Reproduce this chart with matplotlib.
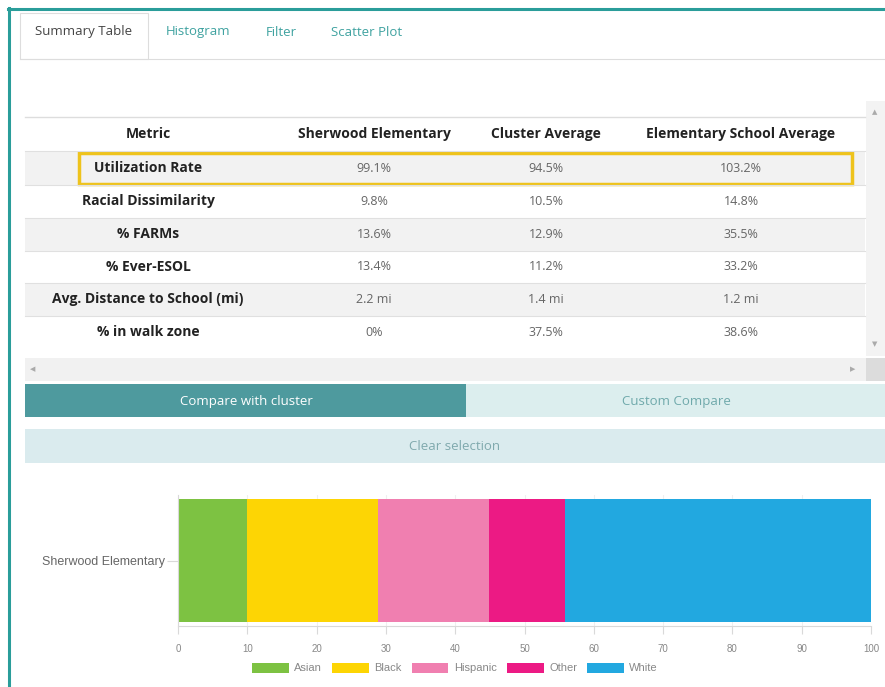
import matplotlib.pyplot as plt
from matplotlib.patches import Rectangle
from matplotlib.lines import Line2D

W, H = 885, 687

# 数据
tabs = ['Summary Table', 'Histogram', 'Filter', 'Scatter Plot']
columns = ['Metric', 'Sherwood Elementary', 'Cluster Average', 'Elementary School Average']
metrics = ['Utilization Rate', 'Racial Dissimilarity', '% FARMs', '% Ever-ESOL',
           'Avg. Distance to School (mi)', '% in walk zone']
sherwood = ['99.1%', '9.8%', '13.6%', '13.4%', '2.2 mi', '0%']
cluster_avg = ['94.5%', '10.5%', '12.9%', '11.2%', '1.4 mi', '37.5%']
elem_avg = ['103.2%', '14.8%', '35.5%', '33.2%', '1.2 mi', '38.6%']

school = ['Sherwood Elementary']
races = ['Asian', 'Black', 'Hispanic', 'Other', 'White']
race_pct = [9.9, 18.9, 16.1, 11.0, 44.1]
race_colors = ['#7DC242', '#FDD504', '#F07FB0', '#EC1A84', '#22A8E0']

ui_font = 'Open Sans'
chart_font = 'Liberation Sans'

fig = plt.figure(figsize=(W / 100, H / 100), dpi=100)
fig.patch.set_facecolor('white')


def box(x0, y0, x1, y1, **kw):
    fig.add_artist(Rectangle((x0 / W, 1 - y1 / H), (x1 - x0) / W, (y1 - y0) / H,
                             transform=fig.transFigure, **kw))


def line(x0, y0, x1, y1, **kw):
    fig.add_artist(Line2D([x0 / W, x1 / W], [1 - y0 / H, 1 - y1 / H],
                          transform=fig.transFigure, **kw))


def txt(x, y, s, **kw):
    kw.setdefault('va', 'center')
    fig.text(x / W, 1 - y / H, s, **kw)


# 外框
line(8, 9, 885, 9, color='#2A9D9A', lw=2.2)
line(9, 8, 9, 687, color='#2A9D9A', lw=2.2)

# 标签页
box(20, 13, 148, 59, facecolor='white', edgecolor='#dddddd', lw=0.8)
line(20, 59, 885, 59, color='#dddddd', lw=0.8)
tab_x = [35, 166, 266, 331]
for i, (t, x) in enumerate(zip(tabs, tab_x)):
    txt(x, 32, t, fontsize=9.5, family=ui_font, color='#444444' if i == 0 else '#3FA2A0')

# 表格
line(25, 117, 865, 117, color='#dddddd', lw=1)
row_edges = [117, 151, 185, 218, 251, 283, 316, 349]
col_x = [148, 374, 546, 741]
for i in range(len(metrics)):
    y0, y1 = row_edges[i + 1], row_edges[i + 2]
    if i % 2 == 0:
        box(25, y0, 865, y1, facecolor='#F2F2F2', edgecolor='none')
    line(25, y0, 865, y0, color='#e0e0e0', lw=0.8)

for c, x in zip(columns, col_x):
    txt(x, 134, c, fontsize=10, family=ui_font, weight='bold', color='#222222', ha='center')

for i, vals in enumerate(zip(metrics, sherwood, cluster_avg, elem_avg)):
    yc = (row_edges[i + 1] + row_edges[i + 2]) / 2
    for j, (v, x) in enumerate(zip(vals, col_x)):
        if j == 0:
            txt(x, yc, v, fontsize=10, family=ui_font, weight='bold', color='#222222', ha='center')
        else:
            txt(x, yc, v, fontsize=9, family=ui_font, color='#666666', ha='center')

# 高亮框
box(79, 153, 852, 184, facecolor='none', edgecolor='#EEC31C', lw=2.5)

# 滚动条
box(866, 101, 885, 356, facecolor='#F3F3F3', edgecolor='none')
txt(875, 112, '▲', fontsize=5, color='#aaaaaa', ha='center')
txt(875, 344, '▼', fontsize=5, color='#aaaaaa', ha='center')
box(25, 358, 866, 381, facecolor='#F1F1F1', edgecolor='none')
box(866, 358, 885, 381, facecolor='#DCDCDC', edgecolor='none')
txt(33, 369, '◀', fontsize=5, color='#aaaaaa', ha='center')
txt(853, 369, '▶', fontsize=5, color='#aaaaaa', ha='center')

# 按钮
box(25, 384, 466, 417, facecolor='#4E9A9E', edgecolor='none')
box(466, 384, 885, 417, facecolor='#DCEEEE', edgecolor='none')
txt(246, 401, 'Compare with cluster', fontsize=9.5, family=ui_font, color='white', ha='center')
txt(676, 401, 'Custom Compare', fontsize=9.5, family=ui_font, color='#6FA9AB', ha='center')
box(25, 429, 885, 463, facecolor='#DAEBEE', edgecolor='none')
txt(455, 447, 'Clear selection', fontsize=9.5, family=ui_font, color='#7FA9AD', ha='center')

# 堆积条形图
ax = fig.add_axes([178 / W, 1 - 626 / H, (871 - 178) / W, (626 - 495) / H])
left = 0
for r, v, c in zip(races, race_pct, race_colors):
    ax.barh(school, v, left=left, color=c, height=0.94, label=r, zorder=2)
    left += v
ax.set_xlim(0, 100)
ax.set_ylim(-0.5, 0.5)
ax.set_xticks(range(0, 101, 10))
for s in ['top', 'right']:
    ax.spines[s].set_visible(False)
for s in ['left', 'bottom']:
    ax.spines[s].set_color('#d9d9d9')
    ax.spines[s].set_linewidth(0.8)
ax.grid(axis='x', color='#efefef', lw=0.8, zorder=0)
ax.set_axisbelow(True)
ax.tick_params(axis='x', colors='#d9d9d9', length=6, width=0.8, labelsize=7, labelcolor='#888888', pad=7)
ax.tick_params(axis='y', colors='#d9d9d9', length=8, width=0.8, labelsize=9, labelcolor='#666666', pad=1)
for lab in ax.get_xticklabels() + ax.get_yticklabels():
    lab.set_family(chart_font)

fig.legend(loc='center', bbox_to_anchor=(455 / W, 1 - 668 / H), ncol=5, frameon=False,
           handlelength=3.3, handleheight=1.0, handletextpad=0.5, columnspacing=0.9,
           prop={'family': chart_font, 'size': 8}, labelcolor='#888888')

fig.savefig('out.png', dpi=100)
